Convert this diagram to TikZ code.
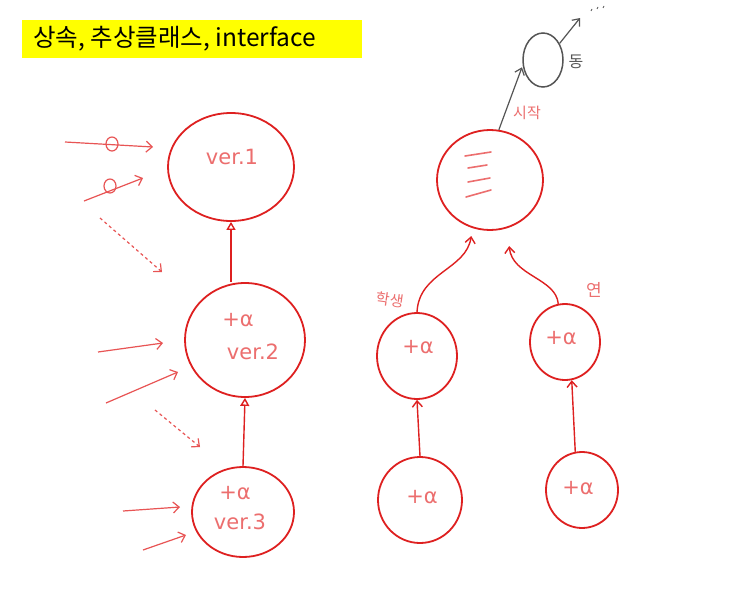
\documentclass[tikz,border=0pt]{standalone}
\usepackage{fontspec}
\newfontfamily\kr{Noto Sans CJK KR}
\newfontfamily\hw{DejaVu Sans}
\usetikzlibrary{shapes.geometric,arrows.meta}
\definecolor{pen}{RGB}{222,32,32}
\definecolor{penl}{RGB}{232,84,84}
\definecolor{ink}{RGB}{236,110,110}
\definecolor{graypen}{RGB}{85,85,85}
\definecolor{hl}{RGB}{255,255,0}
\tikzset{
  circ/.style={ellipse,draw=pen,line width=1.8pt,inner sep=0pt},
  hand/.style={text=ink,font=\hw\fontsize{21}{24}\selectfont,inner sep=0pt},
  handkr/.style={text=ink,font=\kr\fontsize{15}{17}\selectfont,inner sep=0pt},
  inh/.style={draw=pen,line width=1.4pt,-{Triangle[open,length=8pt,width=9pt]}},
  uses/.style={draw=pen,line width=1.4pt,-{Straight Barb[length=6pt,width=10pt]}},
  note/.style={draw=penl,line width=1.2pt,-{Straight Barb[length=6pt,width=11pt]}},
  dnote/.style={note,dash pattern=on 3pt off 3pt},
  garr/.style={draw=graypen,line width=1.2pt,-{Straight Barb[length=6pt,width=10pt]}},
  scrib/.style={draw=ink,line width=1.6pt,line cap=round},
}
\begin{document}
\begin{tikzpicture}[x=1pt,y=-1pt]
\useasboundingbox (0,0) rectangle (750,608);
\fill[white] (0,0) rectangle (750,608);

% title
\node[fill=hl,minimum width=340pt,minimum height=38pt,anchor=north west,inner sep=0pt] (title) at (22,20) {};
\node[font=\kr\fontsize{24.5}{28}\selectfont,anchor=west,inner sep=0pt] (titletext) at (33,39) {상속, 추상클래스, interface};

% left column
\node[circ,minimum width=126pt,minimum height=108pt] (v1) at (231,167) {};
\node[hand] (v1t) at (232,157) {ver.1};
\node[circ,minimum width=120pt,minimum height=114pt] (v2) at (245,340) {};
\node[hand] (v2a) at (238,320) {+α};
\node[hand] (v2t) at (253,352) {ver.2};
\node[circ,minimum width=102pt,minimum height=90pt] (v3) at (243,512) {};
\node[hand] (v3a) at (235,493) {+α};
\node[hand] (v3t) at (240,522) {ver.3};

\draw[inh] (v2.north -| v1.south) -- (v1.south);
\draw[inh] (v3.north) -- (v2.south);

% right part
\node[circ,minimum width=106pt,minimum height=100pt] (top) at (490,180) {};
\draw[scrib] (465,156) -- (491,152);
\draw[scrib] (468,168) -- (487,165);
\draw[scrib] (468,182) -- (490,178);
\draw[scrib] (466,197) -- (491,190);

\node[circ,minimum width=80pt,minimum height=86pt] (s1) at (417,356) {};
\node[hand] (s1a) at (418,347) {+α};
\node[circ,minimum width=70pt,minimum height=76pt] (s2) at (565,342) {};
\node[hand] (s2a) at (561,338) {+α};
\node[circ,minimum width=84pt,minimum height=86pt] (b1) at (420,500) {};
\node[hand] (b1a) at (422,497) {+α};
\node[circ,minimum width=72pt,minimum height=76pt] (b2) at (582,490) {};
\node[hand] (b2a) at (578,488) {+α};

\draw[uses,shorten >=8pt] (s1.north) .. controls (419,272) and (466,270) .. (top.250);
\draw[uses,shorten >=18pt] (s2.100) .. controls (556,278) and (512,276) .. (top.290);
\draw[uses] (b1.north) -- (s1.south);
\draw[uses] (b2.100) -- (s2.-80);

\node[handkr,rotate=-8] (lab1) at (390,300) {학생};
\node[handkr,font=\kr\fontsize{17}{19}\selectfont] (lab2) at (594,290) {연};
\node[handkr] (lab3) at (527,113) {시작};

% gray circle
\node[ellipse,draw=graypen,line width=1.5pt,minimum width=40pt,minimum height=54pt,inner sep=0pt] (gc) at (543,60) {};
\draw[garr,shorten >=2pt] (top.80) -- (gc.195);
\coordinate (gtip) at (580,18);
\draw[garr] (gc.45) -- (gtip);
\node[text=graypen,font=\kr\fontsize{16}{18}\selectfont,inner sep=0pt] (lab4) at (576,62) {동};
\draw[graypen,line width=0.8pt] (591,11) -- (592,9) (597,9) -- (598,7) (603,8) -- (604,6);

% left side notes
\coordinate (a1s) at (65,142);  \coordinate (a1e) at (153,147);
\coordinate (a2s) at (84,201);  \coordinate (a2e) at (143,178);
\coordinate (a3s) at (100,218); \coordinate (a3e) at (162,272);
\coordinate (a4s) at (98,352);  \coordinate (a4e) at (163,343);
\coordinate (a5s) at (106,403); \coordinate (a5e) at (178,372);
\coordinate (a6s) at (155,410); \coordinate (a6e) at (200,447);
\coordinate (a7s) at (123,511); \coordinate (a7e) at (180,507);
\coordinate (a8s) at (143,550); \coordinate (a8e) at (186,535);
\draw[note] (a1s) -- (a1e);
\draw[note] (a2s) -- (a2e);
\draw[dnote] (a3s) -- (a3e);
\draw[note] (a4s) -- (a4e);
\draw[note] (a5s) -- (a5e);
\draw[dnote] (a6s) -- (a6e);
\draw[note] (a7s) -- (a7e);
\draw[note] (a8s) -- (a8e);
\draw[penl,line width=1.2pt] (112,144) ellipse [x radius=6pt,y radius=7pt];
\draw[penl,line width=1.2pt] (110,186) ellipse [x radius=6pt,y radius=7pt];
\end{tikzpicture}
\end{document}
